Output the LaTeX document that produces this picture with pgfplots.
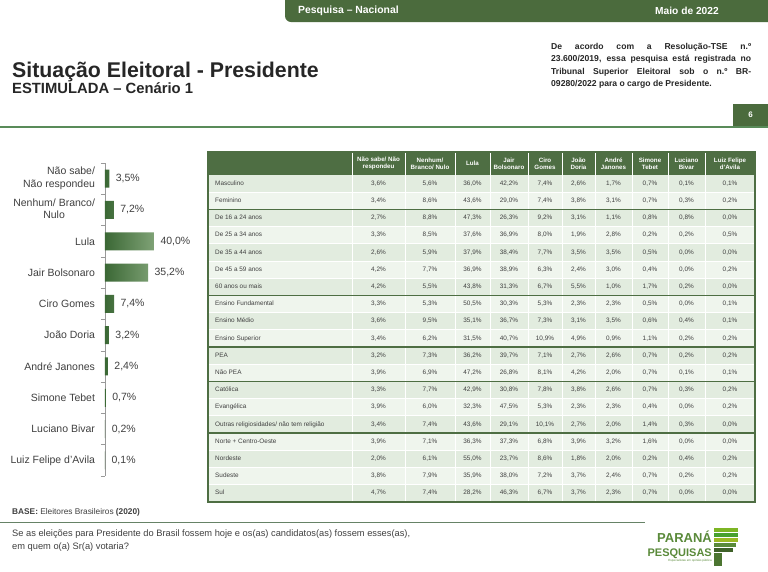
\documentclass[border=0pt]{standalone}
\usepackage{fontspec}
\setmainfont{Liberation Sans}
\usepackage{pgfplots}
\pgfplotsset{compat=1.18}

\definecolor{pgreen}{HTML}{4B6B3D}
\definecolor{hdrgreen}{HTML}{4E6E43}
\definecolor{rowA}{HTML}{E2ECDF}
\definecolor{rowB}{HTML}{EFF5ED}
\definecolor{barL}{HTML}{3B6835}
\definecolor{barR}{HTML}{7FA276}
\definecolor{txt}{HTML}{404040}
\definecolor{logo}{HTML}{5A8A3A}

\newcommand\pn[1]{\pgfmathprintnumber[fixed,fixed zerofill,precision=1,use comma,assume math mode=true]{#1}\%}

\begin{document}
\begin{tikzpicture}
\begin{scope}[x=1pt,y=-1pt]
\useasboundingbox[fill=white] (0,0) rectangle (768,571);

% top tab
\fill[pgreen, rounded corners=6pt] (285,-10) -- (285,22) -- (790,22) -- (790,-10) -- cycle;
\node[anchor=west, inner sep=0pt, text=white, font=\bfseries\fontsize{10.4}{12}\selectfont] at (298,10.5) {Pesquisa – Nacional};
\node[anchor=west, inner sep=0pt, text=white, font=\bfseries\fontsize{10.2}{12}\selectfont] at (655,10.5) {Maio de 2022};

% titles
\node[anchor=base west, inner sep=0pt, text=black!85, font=\bfseries\fontsize{21.3}{24}\selectfont] at (12,77) {Situação Eleitoral - Presidente};
\node[anchor=base west, inner sep=0pt, text=black!85, font=\bfseries\fontsize{14.8}{16}\selectfont] at (12,93.5) {ESTIMULADA – Cenário 1};

% note box
\draw[gray, line width=0.6pt, double=white, double distance=1.2pt] (545,40) rectangle (757,92);
\node[anchor=north west, inner sep=0pt, text width=200pt, align=justify, text=black!85,
      font=\bfseries\fontsize{8.6}{12.3}\selectfont] at (551,43)
  {De acordo com a Resolução-TSE n.º\linebreak 23.600/2019, essa pesquisa está registrada no\linebreak Tribunal Superior Eleitoral sob o n.º BR-\linebreak 09280/2022 para o cargo de Presidente.};

% page number and rule
\fill[pgreen] (733,104) rectangle (768,126);
\node[text=white, font=\bfseries\fontsize{8}{9}\selectfont] at (750.5,115) {6};
\draw[color=black!35!green!30!gray, line width=1.5pt] (0,127) -- (768,127);

% table backgrounds
\foreach \i in {0,2,...,18} \fill[rowA] (208,{175+17.2*\i}) rectangle (755,{175+17.2*(\i+1)});
\foreach \i in {1,3,...,17} \fill[rowB] (208,{175+17.2*\i}) rectangle (755,{175+17.2*(\i+1)});
\fill[hdrgreen] (208,152) rectangle (755,175);
\foreach \i in {1,...,18} \draw[white, line width=0.8pt] (209,{175+17.2*\i}) -- (754,{175+17.2*\i});
\foreach \x in {352,405,455,490,528,562,595,632,668,705}
  \draw[white, line width=0.6pt] (\x,152) -- (\x,502);
\foreach \i in {2,7,10,12,15} \draw[hdrgreen, line width=1.4pt] (208,{175+17.2*\i}) -- (755,{175+17.2*\i});
\draw[hdrgreen, line width=1.6pt] (208,152) rectangle (755,502);

% table header
\begin{scope}[every node/.style={text=white, align=center, inner sep=0pt, font=\bfseries\fontsize{6.2}{7.2}\selectfont}]
\node at (378.5,163.5) {Não sabe/ Não\\respondeu};
\node at (430,163.5) {Nenhum/\\Branco/ Nulo};
\node at (472.5,163.5) {Lula};
\node at (509,163.5) {Jair\\Bolsonaro};
\node at (545,163.5) {Ciro\\Gomes};
\node at (578.5,163.5) {João\\Doria};
\node at (613.5,163.5) {André\\Janones};
\node at (650,163.5) {Simone\\Tebet};
\node at (686.5,163.5) {Luciano\\Bivar};
\node at (730,163.5) {Luiz Felipe\\d'Avila};
\end{scope}

% table body
\begin{scope}[every node/.style={text=txt, inner sep=0pt, text height=4.6pt, text depth=1.3pt, font=\fontsize{6.4}{7}\selectfont}]
\foreach \lab/\va/\vb/\vc/\vd/\ve/\vf/\vg/\vh/\vi/\vj [count=\rw from 0] in {
  Masculino/3.6/5.6/36.0/42.2/7.4/2.6/1.7/0.7/0.1/0.1,
  Feminino/3.4/8.6/43.6/29.0/7.4/3.8/3.1/0.7/0.3/0.2,
  De 16 a 24 anos/2.7/8.8/47.3/26.3/9.2/3.1/1.1/0.8/0.8/0.0,
  De 25 a 34 anos/3.3/8.5/37.6/36.9/8.0/1.9/2.8/0.2/0.2/0.5,
  De 35 a 44 anos/2.6/5.9/37.9/38.4/7.7/3.5/3.5/0.5/0.0/0.0,
  De 45 a 59 anos/4.2/7.7/36.9/38.9/6.3/2.4/3.0/0.4/0.0/0.2,
  60 anos ou mais/4.2/5.5/43.8/31.3/6.7/5.5/1.0/1.7/0.2/0.0,
  Ensino Fundamental/3.3/5.3/50.5/30.3/5.3/2.3/2.3/0.5/0.0/0.1,
  Ensino Médio/3.6/9.5/35.1/36.7/7.3/3.1/3.5/0.6/0.4/0.1,
  Ensino Superior/3.4/6.2/31.5/40.7/10.9/4.9/0.9/1.1/0.2/0.2,
  PEA/3.2/7.3/36.2/39.7/7.1/2.7/2.6/0.7/0.2/0.2,
  Não PEA/3.9/6.9/47.2/26.8/8.1/4.2/2.0/0.7/0.1/0.1,
  Católica/3.3/7.7/42.9/30.8/7.8/3.8/2.6/0.7/0.3/0.2,
  Evangélica/3.9/6.0/32.3/47.5/5.3/2.3/2.3/0.4/0.0/0.2,
  {Outras religiosidades/ não tem religião}/3.4/7.4/43.6/29.1/10.1/2.7/2.0/1.4/0.3/0.0,
  Norte + Centro-Oeste/3.9/7.1/36.3/37.3/6.8/3.9/3.2/1.6/0.0/0.0,
  Nordeste/2.0/6.1/55.0/23.7/8.6/1.8/2.0/0.2/0.4/0.2,
  Sudeste/3.8/7.9/35.9/38.0/7.2/3.7/2.4/0.7/0.2/0.2,
  Sul/4.7/7.4/28.2/46.3/6.7/3.7/2.3/0.7/0.0/0.0} {
  \pgfmathsetmacro\yc{183.6+17.2*\rw}
  \node[anchor=west] at (215,\yc) {\lab};
  \node at (378.5,\yc) {\pn{\va}};
  \node at (430,\yc) {\pn{\vb}};
  \node at (472.5,\yc) {\pn{\vc}};
  \node at (509,\yc) {\pn{\vd}};
  \node at (545,\yc) {\pn{\ve}};
  \node at (578.5,\yc) {\pn{\vf}};
  \node at (613.5,\yc) {\pn{\vg}};
  \node at (650,\yc) {\pn{\vh}};
  \node at (686.5,\yc) {\pn{\vi}};
  \node at (730,\yc) {\pn{\vj}};
}
\end{scope}

% footer
\node[anchor=base west, inner sep=0pt, text=txt, font=\fontsize{8.3}{9}\selectfont] at (12,514)
  {\textbf{BASE:} Eleitores Brasileiros \textbf{(2020)}};
\draw[color=black!45!green!20!gray, line width=0.9pt] (0,522) -- (645,522);
\node[anchor=north west, inner sep=0pt, align=left, text=txt, font=\fontsize{9.3}{13}\selectfont] at (12,530)
  {Se as eleições para Presidente do Brasil fossem hoje e os(as) candidatos(as) fossem esses(as),\\em quem o(a) Sr(a) votaria?};

% logo
\node[anchor=base east, inner sep=0pt, text=logo, font=\bfseries\fontsize{13}{13}\selectfont] at (712,542) {PARANÁ};
\node[anchor=base east, inner sep=0pt, text=logo, font=\bfseries\fontsize{11}{11}\selectfont] at (712,556) {PESQUISAS};
\node[anchor=north east, inner sep=0pt, text=logo, font=\fontsize{3}{3}\selectfont] at (712,559) {Especialistas em opinião pública};
\fill[logo!70!yellow!90!green] (714,528) rectangle (738,532);
\fill[logo!80!green] (714,533) rectangle (738,537);
\fill[logo!60!yellow] (714,538) rectangle (738,542);
\fill[logo] (714,543) rectangle (736,547);
\fill[logo!70!black] (714,548) rectangle (733,552);
\fill[logo!85!black] (714,553) rectangle (722,566);
\end{scope}

% left bar chart
\begin{axis}[
    at={(105pt,-163pt)}, anchor=north west,
    scale only axis, width=61.25pt, height=313pt,
    xbar, bar width=18pt,
    xmin=0, xmax=50, ymin=-0.5, ymax=9.5, y dir=reverse,
    hide x axis, axis y line*=left,
    y axis line style={draw=black!40, line width=0.8pt},
    ytick={0,...,9}, major tick length=0pt,
    yticklabels={{\begin{tabular}{@{}r@{}}Não sabe/\\Não respondeu\end{tabular}},
                 {\begin{tabular}{@{}c@{}}Nenhum/ Branco/\\Nulo\end{tabular}},
                 Lula, Jair Bolsonaro, Ciro Gomes, João Doria, André Janones,
                 Simone Tebet, Luciano Bivar, Luiz Felipe d'Avila},
    yticklabel style={text=txt, font=\fontsize{10.5}{12.5}\selectfont, xshift=-6.5pt},
    extra y ticks={-0.5,0.5,...,9.5}, extra y tick labels={},
    extra y tick style={major tick length=4pt, tick align=outside,
                        tick style={draw=black!40, line width=0.6pt}},
    /pgf/number format/assume math mode=true,
    nodes near coords={\pgfmathprintnumber[fixed,fixed zerofill,precision=1,use comma]{\pgfplotspointmeta}\%},
    every node near coord/.append style={text=txt, font=\fontsize{10.5}{12}\selectfont, xshift=3pt},
    point meta=x, clip=false,
]
\addplot[draw=none, left color=barL, right color=barR] coordinates {
  (3.5,0) (7.2,1) (40.0,2) (35.2,3) (7.4,4) (3.2,5) (2.4,6) (0.7,7) (0.2,8) (0.1,9)};
\end{axis}
\end{tikzpicture}
\end{document}
